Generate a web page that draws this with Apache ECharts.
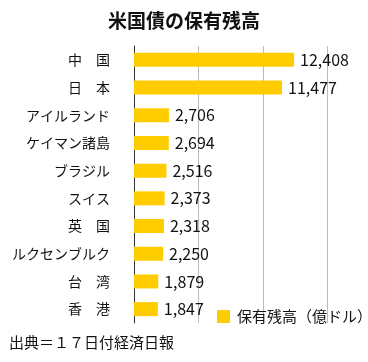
<!DOCTYPE html>
<html><head><meta charset="utf-8">
<script src="https://cdn.jsdelivr.net/npm/echarts@6/dist/echarts.min.js"></script>
<style>html,body{margin:0;padding:0;background:#fff}#c{width:368px;height:362px}</style>
</head><body><div id="c"></div>
<script>
const categories = ['中　国','日　本','アイルランド','ケイマン諸島','ブラジル','スイス','英　国','ルクセンブルク','台　湾','香　港'];
const values = [12408, 11477, 2706, 2694, 2516, 2373, 2318, 2250, 1879, 1847];
const seriesName = '保有残高（億ドル）';
const titleText = '米国債の保有残高';
const sourceText = '出典＝１７日付経済日報';
const FONT = '"Noto Sans CJK JP", sans-serif';

const chart = echarts.init(document.getElementById('c'), null, {renderer:'canvas'});
chart.setOption({
  animation: false,
  textStyle: {fontFamily: FONT},
  title: [{
    text: titleText, left: 'center', top: 6,
    textStyle: {fontSize: 19, fontWeight: 'bold', color: '#111', fontFamily: FONT}
  }, {
    text: sourceText, left: 4, top: 330,
    textStyle: {fontSize: 15, fontWeight: 'normal', color: '#111', fontFamily: FONT}
  }],
  legend: {
    data: [seriesName], left: 212, top: 304,
    itemWidth: 13, itemHeight: 13, itemGap: 10,
    icon: 'rect',
    textStyle: {fontSize: 15, color: '#111', fontFamily: FONT, padding:[0,0,0,2]}
  },
  grid: {left: 134, top: 46, width: 193.5, height: 277, containLabel: false},
  xAxis: {
    type: 'value', min: 0, max: 15000, interval: 5000,
    axisLabel: {show: false}, axisLine: {show: false}, axisTick: {show: false},
    splitLine: {show: true, lineStyle: {color: '#bbb', width: 1}}
  },
  yAxis: {
    type: 'category', data: categories, inverse: true,
    axisLine: {show: true, lineStyle: {color: '#333', width: 1}},
    axisTick: {show: false},
    axisLabel: {margin: 24, fontSize: 14, color: '#111', fontFamily: FONT}
  },
  series: [{
    name: seriesName, type: 'bar', data: values, barWidth: 14,
    itemStyle: {color: '#FFCC00'},
    label: {show: true, position: 'right', distance: 6, fontSize: 16, color: '#111',
      fontFamily: FONT,
      formatter: p => p.value.toLocaleString('en-US')}
  }]
});
</script></body></html>
